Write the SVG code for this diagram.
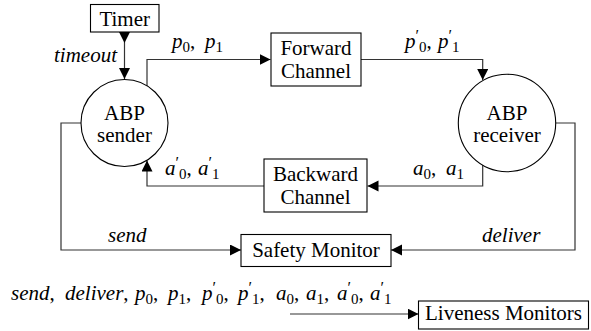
<svg xmlns="http://www.w3.org/2000/svg" width="591" height="331" viewBox="0 0 591 331" font-family="Liberation Serif, Times New Roman, serif">
<style>
.box{fill:#fff;stroke:#000;stroke-width:1.1}
text{font-family:"Liberation Serif","Times New Roman",serif}
.t{font-size:21px;fill:#000}
.c{text-anchor:middle}
.i{font-style:italic}
.s{font-style:normal;font-size:15px}
.pr{font-style:normal;font-size:16px}
.conn{fill:none;stroke:#333;stroke-width:1.2}
</style>
<defs>
<marker id="ah" markerWidth="12" markerHeight="12" refX="11" refY="5.5" orient="auto" markerUnits="userSpaceOnUse"><path d="M0,0 L11,5.5 L0,11 z" fill="#000"/></marker>
<marker id="as" markerWidth="12" markerHeight="12" refX="0" refY="5.5" orient="auto" markerUnits="userSpaceOnUse"><path d="M0,0 L11,5.5 L0,11 z" fill="#000"/></marker>
</defs>
<rect width="591" height="331" fill="#fff"/>
<g id="connectors">
<path class="conn" d="M124.5,32 V79" marker-start="url(#as)" marker-end="url(#ah)"/>
<path class="conn" d="M147,86 V59.5 H270.5" marker-end="url(#ah)"/>
<path class="conn" d="M361,59.5 H482.7 V80" marker-end="url(#ah)"/>
<path class="conn" d="M482.7,165 V186 H367.5" marker-end="url(#ah)"/>
<path class="conn" d="M264,186 H147 V160.5" marker-end="url(#ah)"/>
<path class="conn" d="M81,123 H61 V250 H241" marker-end="url(#ah)"/>
<path class="conn" d="M555.7,123 H575 V250 H391" marker-end="url(#ah)"/>
<path class="conn" d="M290,314 H418.5" marker-end="url(#ah)"/>
<text class="t i" x="117" y="62" text-anchor="end">timeout</text>
<text class="t i" y="48"><tspan x="172">p</tspan><tspan class="s" dy="4">0</tspan><tspan dy="-4" font-style="normal">, </tspan><tspan x="205">p</tspan><tspan class="s" dy="4">1</tspan></text>
<text class="t i" y="48"><tspan x="405">p</tspan><tspan class="pr" dy="-7">′</tspan><tspan class="s" dy="11">0</tspan><tspan dy="-4" font-style="normal">, </tspan><tspan x="438">p</tspan><tspan class="pr" dy="-7">′</tspan><tspan class="s" dy="11">1</tspan></text>
<text class="t i" y="175"><tspan x="413">a</tspan><tspan class="s" dy="4">0</tspan><tspan dy="-4" font-style="normal">, </tspan><tspan x="446">a</tspan><tspan class="s" dy="4">1</tspan></text>
<text class="t i" y="175"><tspan x="165">a</tspan><tspan class="pr" dy="-7">′</tspan><tspan class="s" dy="11">0</tspan><tspan dy="-4" font-style="normal">, </tspan><tspan x="198">a</tspan><tspan class="pr" dy="-7">′</tspan><tspan class="s" dy="11">1</tspan></text>
<text class="t i" x="108" y="242">send</text>
<text class="t i" x="482" y="242">deliver</text>
<text class="t i" y="300"><tspan x="11">send</tspan><tspan font-style="normal">, </tspan><tspan x="65">deliver</tspan><tspan font-style="normal">,</tspan><tspan x="135">p</tspan><tspan class="s" dy="4">0</tspan><tspan dy="-4" font-style="normal">,</tspan><tspan x="168">p</tspan><tspan class="s" dy="4">1</tspan><tspan dy="-4" font-style="normal">,</tspan><tspan x="202">p</tspan><tspan class="pr" dy="-7">′</tspan><tspan class="s" dy="11">0</tspan><tspan dy="-4" font-style="normal">,</tspan><tspan x="238">p</tspan><tspan class="pr" dy="-7">′</tspan><tspan class="s" dy="11">1</tspan><tspan dy="-4" font-style="normal">,</tspan><tspan x="276">a</tspan><tspan class="s" dy="4">0</tspan><tspan dy="-4" font-style="normal">,</tspan><tspan x="306">a</tspan><tspan class="s" dy="4">1</tspan><tspan dy="-4" font-style="normal">,</tspan><tspan x="337">a</tspan><tspan class="pr" dy="-7">′</tspan><tspan class="s" dy="11">0</tspan><tspan dy="-4" font-style="normal">,</tspan><tspan x="370">a</tspan><tspan class="pr" dy="-7">′</tspan><tspan class="s" dy="11">1</tspan></text>
</g>
<g id="timer"><rect class="box" x="90.5" y="4.5" width="68.5" height="27.5"/><text class="t c" x="124.7" y="26">Timer</text></g>
<g id="sender"><circle class="box" cx="124.5" cy="123" r="43.5"/><text class="t c" x="124.5" y="119.5">ABP</text><text class="t c" x="124.5" y="142">sender</text></g>
<g id="receiver"><circle class="box" cx="507" cy="123" r="48.7"/><text class="t c" x="507" y="119.5">ABP</text><text class="t c" x="507" y="142">receiver</text></g>
<g id="forward"><rect class="box" x="271" y="33" width="90" height="53"/><text class="t c" x="316" y="54.5">Forward</text><text class="t c" x="316" y="77.5">Channel</text></g>
<g id="backward"><rect class="box" x="264" y="159" width="103" height="53"/><text class="t c" x="315.5" y="180.5">Backward</text><text class="t c" x="315.5" y="203.5">Channel</text></g>
<g id="safety"><rect class="box" x="241" y="234.5" width="150" height="32"/><text class="t c" x="316" y="256.5">Safety Monitor</text></g>
<g id="liveness"><rect class="box" x="418.5" y="301" width="170" height="28"/><text class="t c" x="503.5" y="320">Liveness Monitors</text></g>
</svg>
